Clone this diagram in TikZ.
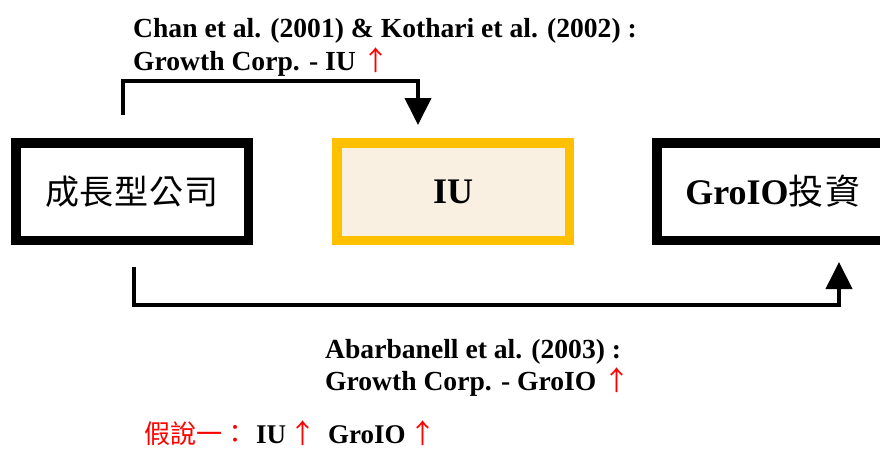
\documentclass[tikz,border=0pt]{standalone}
\usepackage{fontspec}
\setmainfont{Liberation Serif}
\newfontfamily\cjk{Noto Sans CJK TC}
\usetikzlibrary{arrows.meta,calc}
\definecolor{goldc}{HTML}{FFC000}
\definecolor{creamc}{HTML}{F9F0E1}
\newcommand{\upar}[1]{{\cjk\mdseries\fontsize{#1}{#1}\selectfont\textcolor{red}{↑}}}
\tikzset{
  boxbase/.style={draw, line width=9.5pt, minimum width=232.5pt, minimum height=97.5pt, inner sep=0pt},
  blackbox/.style={boxbase, draw=black, fill=white},
  goldbox/.style={boxbase, draw=goldc, fill=creamc},
  conn/.style={line width=4pt, -{Triangle[length=27pt,width=26pt]}},
  lab/.style={anchor=base west, inner sep=0pt, font=\bfseries\fontsize{27.6}{33}\selectfont},
  boxtxt/.style={font=\bfseries\fontsize{36}{40}\selectfont},
}
\begin{document}
\begin{tikzpicture}[x=1pt,y=-1pt]
\useasboundingbox (0,0) rectangle (880,450);
\node[blackbox] (lbox) at (132,191.5) {{\cjk\fontsize{34}{38}\selectfont 成\kern1pt 長\kern1pt 型\kern1pt 公\kern1pt 司}};
\node[goldbox, boxtxt] (mbox) at (453,191.5) {IU};
\node[blackbox, boxtxt] (rbox) at (773,191.5) {GroIO{\mdseries\cjk\fontsize{35}{38}\selectfont 投\kern2pt 資}};
\coordinate (t1) at (123,115);
\coordinate (t2) at (418,125);
\coordinate (b1) at (134,267);
\coordinate (b2) at (839,262);
\draw[conn] (t1) -- ++(0,-34) -| (t2);
\draw[conn] (b1) -- ++(0,38) -| (b2);
\node[lab] (l1a) at (133,37) {Chan et al. (2001) \& Kothari et al. (2002) :};
\node[lab] (l1b) at (133,70) {Growth Corp. - IU \upar{27}};
\node[lab] (l2a) at (325,358) {Abarbanell et al. (2003) :};
\node[lab] (l2b) at (325,390) {Growth Corp. - GroIO \upar{27}};
\node[lab, font=\bfseries\fontsize{27}{30}\selectfont] (hyp) at (144,443) {{\cjk\mdseries\fontsize{26}{30}\selectfont\textcolor{red}{假說一：}}\kern8pt IU\kern3pt\upar{27}\kern12pt GroIO\kern4pt\upar{27}};
\end{tikzpicture}
\end{document}
